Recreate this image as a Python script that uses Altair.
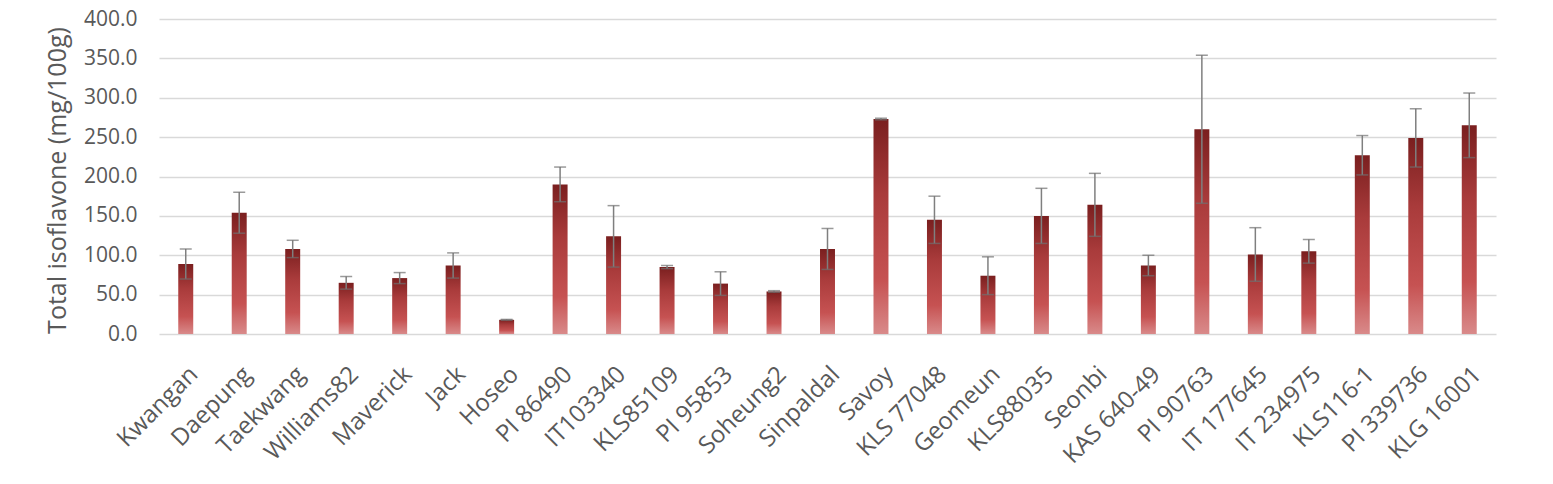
import altair as alt
import pandas as pd

cultivars = ["Kwangan", "Daepung", "Taekwang", "Williams82", "Maverick", "Jack", "Hoseo",
             "PI 86490", "IT103340", "KLS85109", "PI 95853", "Soheung2", "Sinpaldal", "Savoy",
             "KLS 77048", "Geomeun", "KLS88035", "Seonbi", "KAS 640-49", "PI 90763",
             "IT 177645", "IT 234975", "KLS116-1", "PI 339736", "KLG 16001"]
means = [89, 154, 108, 65, 71, 87, 18, 190, 124, 85, 64, 54, 108, 273, 145, 74,
         150, 164, 87, 260, 101, 105, 227, 249, 265]
errors = [19, 26, 11, 8, 7, 16, 0.5, 22, 39, 2, 15, 1, 26, 1, 30, 24,
          35, 40, 13, 94, 34, 15, 25, 37, 41]
y_ticks = [0, 50, 100, 150, 200, 250, 300, 350, 400]

df = pd.DataFrame({"cultivar": cultivars, "mean": means, "err": errors})
df["lo"] = df["mean"] - df["err"]
df["hi"] = df["mean"] + df["err"]

FONT = "Open Sans"
GRAY = "#595959"
PLOT_H = 315

xenc = alt.X("cultivar:N", sort=None, title=None,
             scale=alt.Scale(paddingInner=0.72, paddingOuter=0.36),
             axis=alt.Axis(labelAngle=-45, labelFontSize=24, labelColor=GRAY, labelFont=FONT,
                           domain=False, ticks=False, labelPadding=28, labelOverlap=False,
                           labelBound=False))

yaxis = alt.Axis(values=y_ticks, format=".1f", labelFontSize=21, labelColor=GRAY,
                 labelFont=FONT, titleFont=FONT, titleFontSize=25, titleColor=GRAY,
                 titleFontWeight="normal", domain=False, ticks=False, labelPadding=22,
                 labelOverlap=False, labelFlush=False,
                 gridColor="#d9d9d9", gridWidth=1.5,
                 titleX=-102, titleY=161, titleAngle=-90, titleBaseline="middle",
                 titleAlign="center")
yscale = alt.Scale(domain=[0, 400])
YTITLE = "Total isoflavone (mg/100g)"

gradient = alt.Gradient(
    gradient="linear",
    stops=[alt.GradientStop(color="#7a1f1f", offset=0),
           alt.GradientStop(color="#a93b3b", offset=0.35),
           alt.GradientStop(color="#c65252", offset=0.75),
           alt.GradientStop(color="#d98a8a", offset=1)],
    x1=0, x2=0, y1=0, y2=1)

bars = alt.Chart(df).mark_bar(color=gradient).encode(
    x=xenc,
    y=alt.Y("mean:Q", title=YTITLE, scale=yscale, axis=yaxis),
)

rules = alt.Chart(df).mark_rule(color="#7f7f7f", strokeWidth=1.5).encode(
    x=xenc, y=alt.Y("lo:Q", title=YTITLE, scale=yscale, axis=yaxis), y2="hi:Q")
caps_hi = alt.Chart(df).mark_tick(color="#6f6f6f", size=12, thickness=1.5).encode(
    x=xenc, y=alt.Y("hi:Q", title=YTITLE, scale=yscale, axis=yaxis))
caps_lo = alt.Chart(df).mark_tick(color="#6f6f6f", size=12, thickness=1.5).encode(
    x=xenc, y=alt.Y("lo:Q", title=YTITLE, scale=yscale, axis=yaxis))

chart = alt.layer(bars, rules, caps_hi, caps_lo).properties(
    width=1337, height=PLOT_H,
    autosize=alt.AutoSizeParams(type="none"),
    padding={"left": 151, "top": 11, "right": 40, "bottom": 150},
).configure_view(stroke=None)

chart.save("out.html", embed_options={"renderer": "svg", "actions": False})
